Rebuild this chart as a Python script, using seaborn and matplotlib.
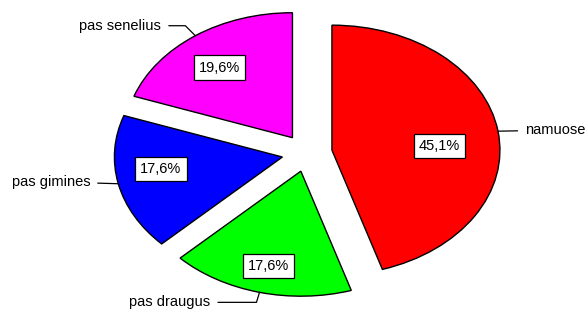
import numpy as np
import matplotlib
matplotlib.use("Agg")
import matplotlib.pyplot as plt
import seaborn as sns

# data
categories = ["namuose", "pas draugus", "pas gimines", "pas senelius"]
values = [45.1, 17.6, 17.6, 19.6]
colors = ["#FF0000", "#00FF00", "#0000FF", "#FF00FF"]

# percent label placement: radius from wedge apex and angle shift from mid angle
pct_radius = [0.64, 0.78, 0.73, 0.71]
pct_shift = [-6, 0, -5, 2.5]

# outer label placement (pixel offsets from wedge arc) and leader line styles
label_offsets = [(27, 1), (-49, -10), (-28, 2), (-34, 10)]
label_ha = ["left", "right", "right", "right"]
label_conn = ["arc3", "angle,angleA=0,angleB=73,rad=0", "arc3", "angle,angleA=0,angleB=135,rad=0"]

sns.set_theme(style="white")
plt.rcParams['font.family'] = ['Liberation Sans', 'DejaVu Sans']

fig = plt.figure(figsize=(5.87, 3.11), dpi=100)
ax = fig.add_axes([0.1796, 0.0257, 0.6869, 0.9646])


def fmt_pct(p):
    return f"{p:.1f}%".replace(".", ",")


wedges, texts, autotexts = ax.pie(
    values, colors=colors, startangle=90, counterclock=False,
    explode=[0.15] * len(values), autopct=fmt_pct, pctdistance=0.72,
    wedgeprops=dict(edgecolor="black", linewidth=1.0),
    textprops=dict(fontsize=10.5, color="black"))

for w, t, r, sh in zip(wedges, autotexts, pct_radius, pct_shift):
    ang = np.deg2rad((w.theta1 + w.theta2) / 2 + sh)
    cx, cy = w.center
    t.set_position((cx + r * w.r * np.cos(ang), cy + r * w.r * np.sin(ang)))
    t.set_bbox(dict(boxstyle="square,pad=0.35", facecolor="white", edgecolor="black", linewidth=0.9))

ax.set_aspect("auto")
ax.set_xlim(-1.2, 1.2)
ax.set_ylim(-1.2, 1.2)

for w, name, off, ha, conn in zip(wedges, categories, label_offsets, label_ha, label_conn):
    mid = np.deg2rad((w.theta1 + w.theta2) / 2)
    cx, cy = w.center
    xy = (cx + w.r * np.cos(mid), cy + w.r * np.sin(mid))
    ax.annotate(name, xy=xy, xytext=off, textcoords="offset pixels",
                ha=ha, va="center", fontsize=10.5, color="black",
                arrowprops=dict(arrowstyle="-", color="black", lw=0.9,
                                shrinkA=3, shrinkB=0, connectionstyle=conn))

fig.savefig("out.png", dpi=100)
